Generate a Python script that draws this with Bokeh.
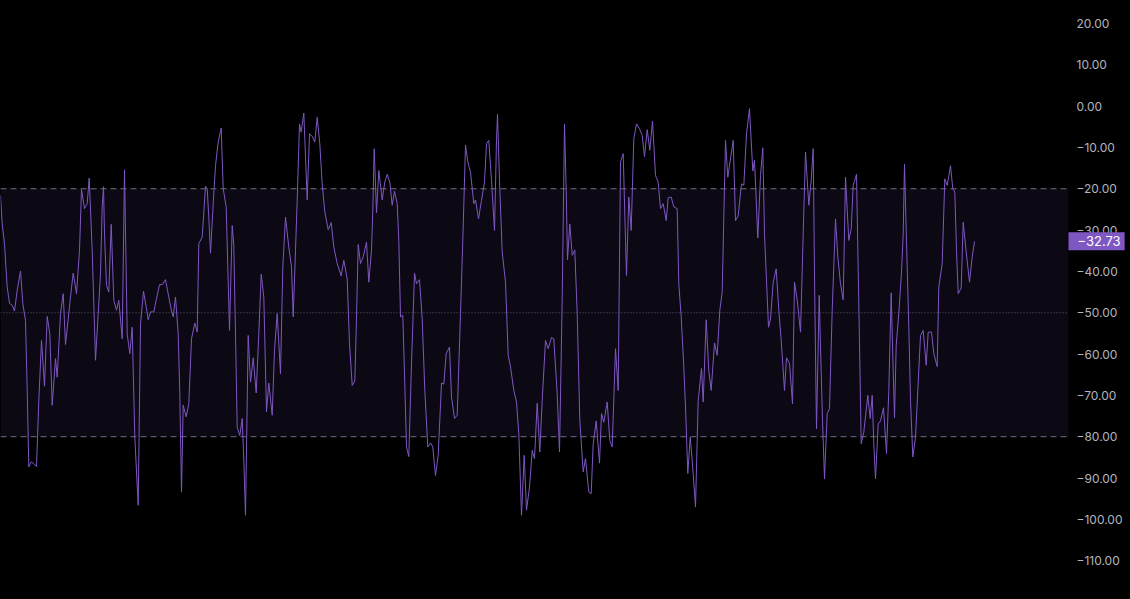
from bokeh.plotting import figure
from bokeh.models import BoxAnnotation, Label, FixedTicker, CustomJSTickFormatter, Range1d, LinearAxis
from bokeh.embed import file_html
from bokeh.resources import INLINE

# Williams %R values (t = time position, wr = value)
t = [0, 1.7, 4, 6.7, 9, 11.7, 14, 16.7, 20, 22.3, 25, 26.7, 28.3, 30.7, 33.3, 36, 38.3, 41, 44, 46.7,
     49.3, 51.7, 55, 56.7, 60, 62.7, 65, 70, 72.7, 76, 79, 81, 84, 86.7, 88.7, 91.7, 95,
     100, 101.7, 103, 104, 106, 108.3, 110.7, 113.3, 116, 118.3, 121.7, 124, 126.7, 129.3, 131.7, 134.3,
     137.7, 140, 143, 145.7, 147.7, 150, 153.3, 156, 159, 161.7, 165, 168.3, 171, 172.7, 175, 177.7,
     179.3, 181, 182.7, 185.7, 188.3, 191, 194.3,
     196.7, 198.3, 201.7, 205, 206.7, 208.3, 210, 212.7, 215, 217.7, 220.7, 222.7, 225.7, 227.3, 229,
     231.7, 233.3, 235, 236.7, 239.3, 241.7, 243.3, 245, 247.7, 250, 252.7, 255.7, 258.3, 260.7, 263.3,
     266, 268.3, 271.7, 274, 276.7, 280, 282.3, 285,
     288.3, 291, 292.7, 295, 296.7, 299, 300.7, 303.3, 305, 306.7, 309, 311.7, 314.3, 316.7, 319.3,
     321.7, 324.3, 327.7, 330.7, 333.3, 336.7, 340.7, 343.3, 346.7, 349, 351.7, 354.3, 355.7, 357.7,
     360, 362.7, 366, 368.3, 371, 372.3, 373.7, 376, 378.3,
     381.7, 384.3, 386.7, 389.3, 391.7, 394, 396.7, 398.3, 400, 402.3, 404, 406, 408.3, 411, 414, 416,
     419, 421.7, 424.3, 427.3, 430, 432.3, 435, 437.7, 441, 443.3, 445.7, 449, 451, 454, 456.7, 460,
     462.3, 465, 467.3, 470, 473.3, 475, 478,
     481, 484, 486, 488.3, 491, 494, 496, 497, 499, 501.7, 505, 507.7, 510, 513.3, 516, 518.3, 521,
     523.7, 526, 529, 531.7, 534, 536.7, 539.3, 541.7, 545, 547.7, 551, 553.3, 556.7, 559, 561.7, 564,
     565.7, 567, 569.3, 571.7, 574.3,
     576.7, 579.3, 582.7, 585, 588.3, 590.7, 592.7, 595.7, 599, 601, 603.3, 606.7, 609.3, 611.7, 615,
     617.7, 620, 622.7, 625, 626, 628.3, 630.7, 633.3, 636, 639, 641.7, 644, 646.7, 649.3, 652, 655,
     657.7, 660, 662.7, 665.7,
     667.7, 670.7, 673.3, 676.7, 678.3, 680.7, 683.3, 685, 687.3, 689.7, 691.7, 695, 697.7, 701, 702.7,
     705.7, 708.3, 710.7, 714, 716.7, 719.3, 721.7, 723.3, 725, 727.3, 730, 732.7, 735, 737.7, 741,
     743.3, 746, 749, 752.3, 754, 757.3, 760, 762.3,
     764, 768, 770, 772.7, 775.7, 778.3, 780.7, 784, 786, 789, 792, 794, 796.7, 800, 802.7, 805, 808.3,
     810.7, 812.7, 814.3, 816, 818.7, 820, 822, 824, 826.7, 829, 831.7, 835, 837.3, 840, 842.7, 845,
     848.3, 850.7, 852.7, 856,
     859, 860.7, 863.3, 867.3, 869.7, 871.7, 873.3, 875, 877.7, 880, 883, 886, 888.3, 890.7, 892.3, 894,
     895.7, 898.3, 901, 902.7, 904, 905.7, 908.3, 910, 912.3, 915, 917.3, 920, 922.7, 925.7, 927.7, 931,
     933.3, 936.7, 938.3, 941.7, 944.3, 946.7, 950, 952.3, 954.3, 956, 957.7, 960.7, 962.7, 965.7, 969,
     971.7, 974]

wr = [-21.6, -28.5, -33.3, -43.8, -47.7, -48.2, -49.6, -44.6, -39.9, -47.8, -51.9, -68.8, -87.3, -86.1, -86.5, -87.2, -71.2, -56.7, -67.8, -50.9,
      -55.1, -72.4, -61.1, -65.6, -50.2, -45.4, -57.7, -46.2, -40.4, -45.4, -34.9, -20.2, -24.8, -23.6, -17.4, -34.9, -61.5,
      -40.6, -24.4, -19.5, -30.9, -43.4, -45.0, -28.6, -47.0, -49.4, -47.0, -56.3, -15.4, -55.1, -59.9, -53.5, -80.1,
      -96.6, -52.7, -44.8, -48.6, -51.7, -49.8, -49.8, -46.6, -43.2, -43.2, -42.0, -46.2, -49.6, -51.0, -46.2, -55.1,
      -69.6, -93.4, -72.4, -75.2, -72.0, -56.3, -52.5,
      -54.7, -33.3, -31.7, -19.4, -20.0, -26.9, -35.6, -23.6, -14.4, -8.7, -5.3, -20.0, -24.4, -39.0, -54.3,
      -28.9, -33.7, -55.1, -77.7, -79.7, -75.6, -85.7, -99.0, -55.5, -66.8, -60.9, -69.4, -55.1, -40.7, -46.2,
      -74.0, -67.0, -74.8, -59.1, -50.2, -64.8, -39.0, -26.9,
      -34.1, -39.0, -51.0, -34.9, -22.8, -4.3, -6.3, -1.7, -12.3, -22.7, -6.7, -7.3, -8.7, -2.7, -9.1,
      -18.8, -25.6, -29.9, -28.2, -34.1, -38.1, -41.1, -37.3, -41.8, -57.5, -67.6, -66.5, -54.3, -33.5,
      -38.1, -36.5, -32.9, -42.6, -34.9, -25.2, -10.3, -25.8, -15.6,
      -22.7, -18.4, -16.5, -18.4, -24.0, -20.6, -23.6, -32.5, -51.0, -50.6, -64.8, -82.5, -84.8, -62.3, -40.4, -43.0,
      -42.0, -51.5, -68.8, -82.5, -81.5, -82.5, -89.4, -84.5, -67.0, -67.3, -59.9, -58.3, -70.4, -75.6, -74.8, -50.2,
      -32.5, -9.4, -13.5, -16.0, -23.6, -22.7, -27.3,
      -22.8, -18.4, -9.1, -8.3, -18.0, -30.1, -8.3, -1.9, -18.0, -35.3, -42.6, -60.3, -63.1, -68.8, -71.6, -79.3, -99.0,
      -84.5, -97.8, -92.2, -83.3, -85.3, -71.9, -83.7, -71.2, -56.7, -58.7, -56.0, -56.3, -69.6, -83.7, -47.0, -4.3,
      -20.4, -37.2, -28.5, -36.1, -34.8,
      -50.2, -76.0, -88.5, -85.3, -93.4, -93.8, -81.7, -76.2, -86.4, -74.4, -76.5, -71.6, -80.9, -82.5, -58.7,
      -68.8, -13.5, -11.5, -32.5, -41.0, -22.0, -30.1, -7.9, -4.3, -5.5, -7.1, -12.2, -5.7, -10.7, -3.6, -16.8,
      -18.4, -24.8, -23.6, -27.7,
      -22.2, -22.0, -24.4, -24.8, -43.0, -51.0, -63.1, -72.8, -88.9, -80.1, -85.7, -97.0, -71.2, -63.5, -71.6,
      -51.7, -64.0, -68.8, -57.3, -60.3, -49.4, -45.0, -26.9, -8.3, -17.2, -12.7, -8.3, -27.7, -26.5, -18.8,
      -19.2, -6.7, -0.6, -15.7, -13.1, -31.9, -16.8, -10.1,
      -30.9, -53.5, -51.5, -42.6, -39.4, -49.4, -56.7, -68.8, -60.9, -62.3, -72.0, -42.6, -46.9, -54.7, -30.9, -11.1, -24.0,
      -18.0, -10.3, -47.0, -78.1, -45.8, -58.3, -76.0, -90.2, -74.4, -73.2, -49.4, -27.3, -36.5, -43.0, -46.9, -17.2,
      -32.5, -29.7, -19.2, -16.5,
      -57.5, -81.7, -78.9, -70.0, -75.6, -70.0, -81.7, -90.2, -76.9, -76.2, -73.0, -84.1, -68.8, -45.2, -60.7, -75.4,
      -57.9, -50.2, -40.2, -30.9, -14.0, -30.1, -53.5, -71.2, -84.9, -80.1, -68.8, -55.5, -54.3, -62.7, -54.7, -54.7,
      -59.9, -63.0, -43.8, -38.1, -17.6, -19.2, -14.4, -20.0, -20.8, -34.9, -45.4, -44.0, -28.1, -35.3, -42.6,
      -36.5, -32.73]

upper_level = -20
middle_level = -50
lower_level = -80
tick_values = [20, 10, 0, -10, -20, -30, -40, -50, -60, -70, -80, -90, -100, -110, -120]

LINE = "#7e57c2"
GRID = "#787b86"
LABEL = "#b2b5be"
FONT = "Inter"
PANE_END = 1068      # right edge of the indicator pane (time units)

p = figure(width=1130, height=599, output_backend="svg", toolbar_location=None,
           x_axis_location=None, y_axis_location=None,
           x_range=Range1d(0, 1130), y_range=Range1d(-119.4, 25.56),
           background_fill_color="#000000", border_fill_color="#000000",
           min_border_left=0, min_border_top=0, min_border_bottom=0, min_border_right=0)
p.outline_line_color = None
p.border_line_color = None
p.grid.visible = False

band = BoxAnnotation(left=0, right=PANE_END, top=upper_level, bottom=lower_level,
                     fill_color=LINE, fill_alpha=0.1, line_color=None, level="underlay")
p.add_layout(band)

for lvl, dash, alpha in [(upper_level, "6 4", 0.9), (lower_level, "6 4", 0.9), (middle_level, "1 2", 0.7)]:
    p.segment(x0=0, y0=lvl, x1=PANE_END, y1=lvl, line_color=GRID, line_alpha=alpha,
              line_width=1, line_dash=dash, level="underlay")

p.line(t, wr, line_color=LINE, line_width=1)

ax = LinearAxis(fixed_location=PANE_END)
ax.ticker = FixedTicker(ticks=tick_values)
ax.formatter = CustomJSTickFormatter(code="return (tick < 0 ? '\u2212' : '') + Math.abs(tick).toFixed(2);")
ax.axis_line_color = None
ax.major_tick_line_color = None
ax.minor_tick_line_color = None
ax.major_tick_in = 0
ax.major_tick_out = 0
ax.major_label_standoff = 8
ax.major_label_text_color = LABEL
ax.major_label_text_font = FONT
ax.major_label_text_font_size = "12px"
p.add_layout(ax, "right")

last = wr[-1]
txt = ("\u2212" if last < 0 else "") + f"{abs(last):.2f}"
p.add_layout(Label(x=PANE_END, y=last, text=txt, text_color="#ffffff",
                   text_font=FONT, text_font_size="13px", text_align="left",
                   text_baseline="middle", x_offset=0,
                   background_fill_color=LINE,
                   padding=dict(left=9, right=4, top=4, bottom=4), level="overlay"))

html = file_html(p, INLINE)
html = html.replace("</head>", "<style>html, body { margin: 0; background: #000000; }</style></head>", 1)
open("out.html", "w").write(html)
